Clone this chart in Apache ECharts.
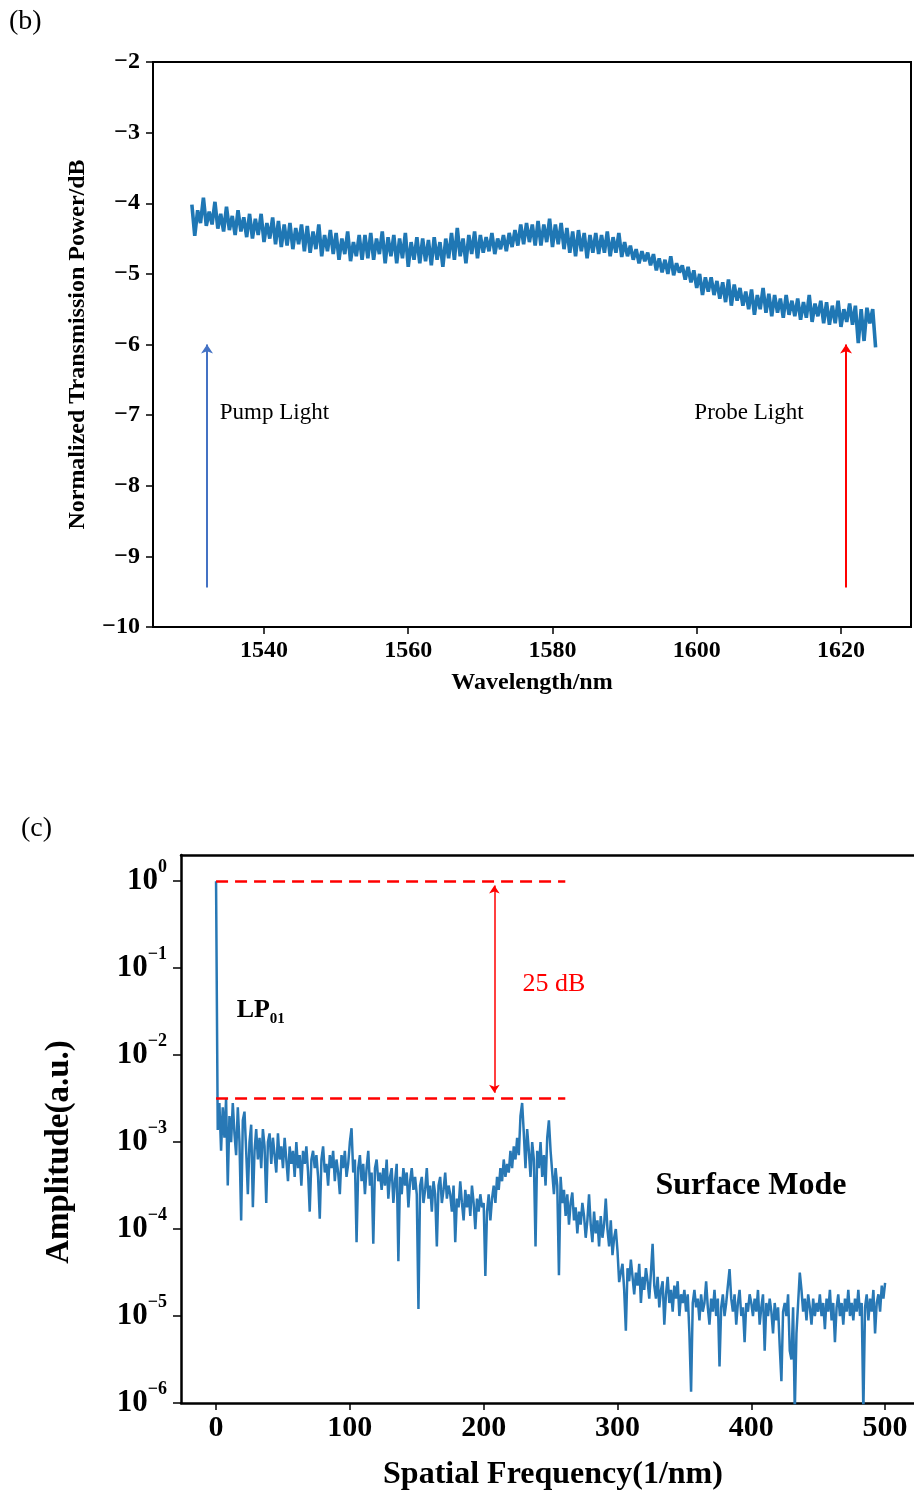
<!DOCTYPE html>
<html>
<head>
<meta charset="utf-8">
<script src="https://cdn.jsdelivr.net/npm/echarts@6/dist/echarts.min.js"></script>
<style>
html,body{margin:0;padding:0;background:#fff;}
#chart{width:914px;height:1492px;}
</style>
</head>
<body>
<div id="chart"></div>
<script>
// ---------- Panel (b): transmission spectrum ----------
const wlStart = 1530;
const wlStep = 0.4;
const transmission = [
  -4.02,-4.46,-4.10,-4.28,-3.92,-4.32,-4.12,-4.30,-3.98,-4.36,
  -4.15,-4.40,-4.05,-4.38,-4.18,-4.45,-4.10,-4.40,-4.20,-4.48,
  -4.15,-4.50,-4.22,-4.45,-4.15,-4.55,-4.28,-4.50,-4.20,-4.58,
  -4.25,-4.62,-4.30,-4.60,-4.28,-4.65,-4.35,-4.58,-4.30,-4.68,
  -4.32,-4.70,-4.40,-4.65,-4.30,-4.75,-4.45,-4.68,-4.38,-4.72,
  -4.42,-4.80,-4.50,-4.72,-4.40,-4.82,-4.55,-4.75,-4.45,-4.80,
  -4.45,-4.78,-4.42,-4.80,-4.50,-4.72,-4.40,-4.85,-4.48,-4.75,
  -4.45,-4.85,-4.50,-4.78,-4.42,-4.90,-4.55,-4.80,-4.48,-4.85,
  -4.50,-4.82,-4.52,-4.88,-4.48,-4.80,-4.55,-4.90,-4.50,-4.78,
  -4.42,-4.80,-4.35,-4.75,-4.50,-4.85,-4.45,-4.72,-4.40,-4.78,
  -4.45,-4.70,-4.48,-4.68,-4.42,-4.72,-4.50,-4.65,-4.45,-4.68,
  -4.42,-4.62,-4.38,-4.60,-4.30,-4.58,-4.28,-4.55,-4.30,-4.60,
  -4.25,-4.60,-4.30,-4.55,-4.22,-4.62,-4.30,-4.58,-4.28,-4.65,
  -4.35,-4.70,-4.40,-4.75,-4.38,-4.68,-4.42,-4.78,-4.45,-4.70,
  -4.42,-4.72,-4.45,-4.70,-4.40,-4.75,-4.48,-4.70,-4.42,-4.76,
  -4.55,-4.75,-4.60,-4.80,-4.65,-4.85,-4.68,-4.82,-4.70,-4.88,
  -4.72,-4.95,-4.78,-4.98,-4.80,-5.00,-4.75,-5.02,-4.85,-4.98,
  -4.88,-5.08,-4.90,-5.12,-4.95,-5.20,-5.00,-5.30,-5.05,-5.25,
  -5.05,-5.30,-5.10,-5.35,-5.12,-5.40,-5.08,-5.45,-5.15,-5.38,
  -5.20,-5.45,-5.25,-5.50,-5.22,-5.58,-5.30,-5.50,-5.20,-5.55,
  -5.28,-5.60,-5.30,-5.55,-5.35,-5.62,-5.30,-5.58,-5.38,-5.60,
  -5.35,-5.65,-5.40,-5.62,-5.30,-5.68,-5.42,-5.60,-5.38,-5.70,
  -5.40,-5.72,-5.45,-5.70,-5.38,-5.75,-5.50,-5.68,-5.42,-5.72,
  -5.45,-5.98,-5.50,-5.95,-5.48,-5.70,-5.50,-6.04
];
const wlTicks = [1540, 1560, 1580, 1600, 1620];

// ---------- Panel (c): spatial frequency spectrum (log10 of amplitude) ----------
const sfStep = 1.25;
const amplitudeLog10 = [
  0,-2.86,-2.55,-3.10,-2.60,-2.95,-2.50,-3.50,-2.70,-3.00,-2.55,-2.90,-3.15,-2.60,-3.00,-3.90,-2.75,-2.65,-3.10,-3.60,
  -3.00,-2.80,-3.75,-3.10,-2.85,-3.20,-2.95,-3.30,-2.85,-3.05,-3.70,-3.00,-2.90,-3.25,-2.95,-3.15,-3.35,-2.90,-3.20,-3.05,
  -3.30,-2.95,-3.20,-3.45,-3.05,-3.25,-3.10,-3.40,-3.00,-3.30,-3.15,-3.50,-3.10,-3.25,-3.05,-3.35,-3.80,-3.20,-3.10,-3.30,
  -3.15,-3.40,-3.88,-3.20,-3.05,-3.35,-3.25,-3.50,-3.15,-3.30,-3.10,-3.45,-3.20,-3.35,-3.60,-3.15,-3.30,-3.10,-3.40,-3.25,
  -3.00,-2.84,-3.35,-3.20,-4.15,-3.30,-3.15,-3.45,-3.25,-3.60,-3.30,-3.10,-3.50,-3.35,-4.17,-3.30,-3.20,-3.45,-3.35,-3.55,
  -3.30,-3.50,-3.20,-3.65,-3.40,-3.30,-3.70,-3.45,-3.25,-4.37,-3.40,-3.60,-3.30,-3.50,-3.35,-3.75,-3.45,-3.30,-3.55,-3.40,
  -3.60,-4.92,-3.50,-3.40,-3.70,-3.55,-3.30,-3.65,-3.50,-3.80,-3.45,-3.60,-4.20,-3.50,-3.40,-3.70,-3.55,-3.35,-3.65,-3.50,
  -3.60,-3.80,-3.50,-4.15,-3.65,-3.75,-3.45,-3.70,-3.90,-3.55,-3.75,-3.60,-3.85,-3.50,-3.70,-4.00,-3.65,-3.80,-3.60,-3.75,
  -3.70,-4.54,-3.80,-3.60,-3.90,-3.65,-3.50,-3.70,-3.40,-3.55,-3.30,-3.45,-3.20,-3.40,-3.25,-3.35,-3.10,-3.30,-3.05,-3.20,
  -2.95,-3.15,-2.70,-2.55,-2.90,-3.30,-2.85,-3.10,-3.40,-3.00,-3.20,-4.20,-3.10,-3.30,-3.00,-3.40,-3.15,-3.50,-2.95,-2.75,
  -3.10,-3.35,-3.60,-3.30,-3.50,-4.53,-3.40,-3.70,-3.55,-3.85,-3.60,-3.95,-3.70,-3.58,-3.90,-3.75,-4.05,-3.80,-3.95,-3.70,
  -3.85,-4.10,-3.90,-3.60,-3.95,-4.15,-3.80,-4.05,-3.90,-4.20,-3.85,-4.10,-3.95,-3.65,-4.00,-4.20,-3.90,-4.30,-4.10,-4.00,
  -4.25,-4.61,-4.50,-4.40,-4.70,-5.17,-4.45,-4.60,-4.35,-4.55,-4.75,-4.50,-4.65,-4.40,-4.85,-4.55,-4.70,-4.45,-4.60,-4.80,
  -4.50,-4.17,-4.65,-4.80,-4.55,-4.90,-4.70,-4.60,-5.10,-4.75,-4.55,-4.85,-4.70,-4.95,-4.65,-4.80,-4.60,-5.00,-4.75,-4.85,
  -4.70,-4.95,-4.75,-5.20,-5.87,-4.85,-4.70,-4.90,-4.80,-5.05,-4.75,-4.95,-4.85,-4.60,-4.90,-5.10,-4.80,-4.95,-4.70,-5.00,
  -4.80,-5.58,-4.90,-4.75,-5.00,-4.85,-4.65,-4.46,-4.80,-4.95,-4.75,-5.10,-4.85,-4.70,-5.00,-4.90,-5.30,-4.85,-4.95,-4.75,
  -4.85,-5.00,-4.80,-4.95,-4.70,-5.10,-4.90,-4.75,-5.40,-4.85,-5.00,-4.80,-4.95,-5.20,-4.85,-5.05,-4.90,-5.35,-5.75,-4.95,
  -4.85,-5.00,-4.75,-5.40,-5.50,-4.90,-6.10,-5.20,-4.85,-4.50,-4.70,-4.95,-4.80,-5.05,-4.75,-4.90,-5.10,-4.80,-5.00,-4.85,
  -4.95,-4.75,-5.00,-4.85,-5.15,-4.80,-4.95,-4.70,-5.05,-4.85,-5.30,-4.90,-4.75,-5.00,-4.85,-5.10,-4.80,-4.95,-4.70,-5.00,
  -4.85,-5.05,-4.80,-4.95,-4.70,-5.00,-4.85,-6.10,-4.90,-4.75,-5.05,-4.80,-4.95,-4.70,-5.20,-4.85,-4.75,-4.95,-4.65,-4.80,
  -4.62
];
const sfTicks = [0, 100, 200, 300, 400, 500];
const decades = [-6, -5, -4, -3, -2, -1, 0];
const minorMultipliers = [2, 3, 4, 5, 6, 7, 8, 9];
const lp01Level = 1;        // upper dashed reference
const surfaceLevel = 0.0032; // lower dashed reference

// ---------- build ----------
const FONT = "'Liberation Serif','Times New Roman',serif";
const sup = s => String(s).replace('-', '\u2212');
const transData = transmission.map((v, i) => [+(wlStart + i * wlStep).toFixed(2), v]);
const ampData = amplitudeLog10.map((e, i) => [i * sfStep, Math.pow(10, e)]);
const majorVals = decades.map(d => Math.pow(10, d));
const minorVals = [];
decades.forEach(d => { if (d < 0) minorMultipliers.forEach(m => minorVals.push(m * Math.pow(10, d))); });
minorVals.push(2);

const chart = echarts.init(document.getElementById('chart'), null, {renderer: 'canvas'});
const option = {
  animation: false,
  backgroundColor: '#fff',
  textStyle: {fontFamily: FONT},
  graphic: [
    {type: 'text', left: 9, top: 8, style: {text: '(b)', font: "28px 'Liberation Serif'", fill: '#000'}},
    {type: 'text', left: 21, top: 815, style: {text: '(c)', font: "28px 'Liberation Serif'", fill: '#000'}}
  ],
  grid: [
    {left: 153, top: 62, width: 758, height: 565, show: true, borderColor: '#000', borderWidth: 2, backgroundColor: 'transparent'},
    {left: 181, top: 855, width: 733, height: 548, show: false}
  ],
  xAxis: [
    {
      gridIndex: 0, type: 'value', min: 1524.61, max: 1629.71,
      name: 'Wavelength/nm', nameLocation: 'middle', nameGap: 44,
      nameTextStyle: {fontFamily: FONT, fontSize: 24, fontWeight: 'bold', color: '#000'},
      axisLine: {onZero: false, lineStyle: {color: '#000', width: 2}},
      axisTick: {customValues: wlTicks, length: 7, lineStyle: {color: '#000', width: 1.5}},
      axisLabel: {customValues: wlTicks, margin: 12, fontFamily: FONT, fontSize: 24, fontWeight: 'bold', color: '#000',
                  formatter: v => String(v)},
      splitLine: {show: false}
    },
    {
      gridIndex: 1, type: 'value', min: -26.2, max: 521.6,
      name: 'Spatial Frequency(1/nm)', nameLocation: 'middle', nameGap: 56,
      nameTextStyle: {fontFamily: FONT, fontSize: 32, fontWeight: 'bold', color: '#000', padding: [0, 0, 0, 11]},
      axisLine: {onZero: false, lineStyle: {color: '#000', width: 2.5}},
      axisTick: {customValues: sfTicks, length: 7, lineStyle: {color: '#000', width: 1.5}},
      axisLabel: {customValues: sfTicks, margin: 10, fontFamily: FONT, fontSize: 30, fontWeight: 'bold', color: '#000',
                  formatter: v => String(v)},
      splitLine: {show: false}
    },
    {
      gridIndex: 1, type: 'value', min: -26.2, max: 521.6, position: 'top',
      axisLine: {onZero: false, lineStyle: {color: '#000', width: 2.5}},
      axisTick: {show: false}, axisLabel: {show: false}, splitLine: {show: false}
    }
  ],
  yAxis: [
    {
      gridIndex: 0, type: 'value', min: -10, max: -2, interval: 1,
      name: 'Normalized Transmission Power/dB', nameLocation: 'middle', nameGap: 63,
      nameTextStyle: {fontFamily: FONT, fontSize: 24, fontWeight: 'bold', color: '#000'},
      axisLine: {onZero: false, lineStyle: {color: '#000', width: 2}},
      axisTick: {length: 7, lineStyle: {color: '#000', width: 1.5}},
      axisLabel: {margin: 13, fontFamily: FONT, fontSize: 24, fontWeight: 'bold', color: '#000', formatter: v => sup(v)},
      splitLine: {show: false}
    },
    {
      gridIndex: 1, type: 'log', logBase: 10, min: 1e-6, max: 2,
      name: 'Amplitude(a.u.)', nameLocation: 'middle', nameGap: 105,
      nameTextStyle: {fontFamily: FONT, fontSize: 33, fontWeight: 'bold', color: '#000', padding: [0, 46, 0, 0]},
      axisLine: {onZero: false, lineStyle: {color: '#000', width: 2.5}},
      axisTick: {customValues: majorVals, length: 8, lineStyle: {color: '#000', width: 1.5}},
      axisLabel: {
        customValues: majorVals, margin: 14, color: '#000',
        formatter: v => '{b|10}{s|' + sup(Math.round(Math.log10(v))) + '}',
        rich: {
          b: {fontFamily: FONT, fontSize: 31, fontWeight: 'bold', color: '#000', lineHeight: 30},
          s: {fontFamily: FONT, fontSize: 18, fontWeight: 'bold', color: '#000', padding: [0, 0, 27, 0]}
        }
      },
      splitLine: {show: false}
    },
    {
      gridIndex: 1, type: 'log', logBase: 10, min: 1e-6, max: 2,
      axisLine: {show: false, onZero: false},
      axisTick: {customValues: minorVals, length: 4, lineStyle: {color: '#000', width: 1.2}},
      axisLabel: {show: false},
      splitLine: {show: false}
    }
  ],
  series: [
    {
      type: 'line', xAxisIndex: 0, yAxisIndex: 0, data: transData,
      showSymbol: false, symbol: 'none',
      lineStyle: {color: '#1f77b4', width: 3.6}, z: 3,
      markLine: {
        silent: true, animation: false,
        symbol: ['none', 'arrow'], symbolSize: 9,
        label: {show: false},
        data: [
          [{coord: [1532.1, -9.44], lineStyle: {color: '#4472c4', width: 2, type: 'solid'}}, {coord: [1532.1, -6.0]}],
          [{coord: [1620.7, -9.44], lineStyle: {color: '#ff0000', width: 2, type: 'solid'}}, {coord: [1620.7, -6.0]}]
        ]
      },
      markPoint: {
        silent: true, animation: false,
        symbol: 'circle', symbolSize: 1, itemStyle: {color: 'rgba(0,0,0,0)'},
        label: {show: true, position: 'right', distance: 0, fontFamily: FONT, fontSize: 23, color: '#000', formatter: '{b}'},
        data: [
          {name: 'Pump Light', coord: [1533.8, -6.97]},
          {name: 'Probe Light', coord: [1599.6, -6.97]}
        ]
      }
    },
    {
      type: 'line', xAxisIndex: 1, yAxisIndex: 1, data: ampData,
      showSymbol: false, symbol: 'none',
      lineStyle: {color: '#2878b5', width: 2.5}, z: 3,
      markLine: {
        silent: true, animation: false,
        symbol: ['none', 'none'],
        label: {show: false},
        data: [
          [{coord: [0, lp01Level], lineStyle: {color: '#ff0000', width: 2.5, type: [12, 7]}}, {coord: [261, lp01Level]}],
          [{coord: [0, surfaceLevel], lineStyle: {color: '#ff0000', width: 2.5, type: [12, 7]}}, {coord: [261, surfaceLevel]}],
          [{coord: [208, 0.89], symbol: 'arrow', symbolSize: 8, lineStyle: {color: '#ff0000', width: 1.5, type: 'solid'}},
           {coord: [208, 0.0037], symbol: 'arrow', symbolSize: 8}]
        ]
      },
      markPoint: {
        silent: true, animation: false,
        symbol: 'circle', symbolSize: 1, itemStyle: {color: 'rgba(0,0,0,0)'},
        label: {show: true, position: 'right', distance: 0, color: '#000'},
        data: [
          {name: '25 dB', coord: [228.7, 0.066],
           label: {formatter: '25 dB', fontFamily: FONT, fontSize: 26, color: '#ff0000'}},
          {name: 'LP01', coord: [15, 0.033],
           label: {formatter: '{a|LP}{c|01}',
                   rich: {a: {fontFamily: FONT, fontSize: 26, fontWeight: 'bold', color: '#000', lineHeight: 26},
                          c: {fontFamily: FONT, fontSize: 15, fontWeight: 'bold', color: '#000', padding: [18, 0, 0, 0]}}}},
          {name: 'Surface Mode', coord: [328, 0.000316],
           label: {formatter: 'Surface Mode', fontFamily: FONT, fontSize: 32, fontWeight: 'bold', color: '#000'}}
        ]
      }
    }
  ]
};
chart.setOption(option);
</script>
</body>
</html>
